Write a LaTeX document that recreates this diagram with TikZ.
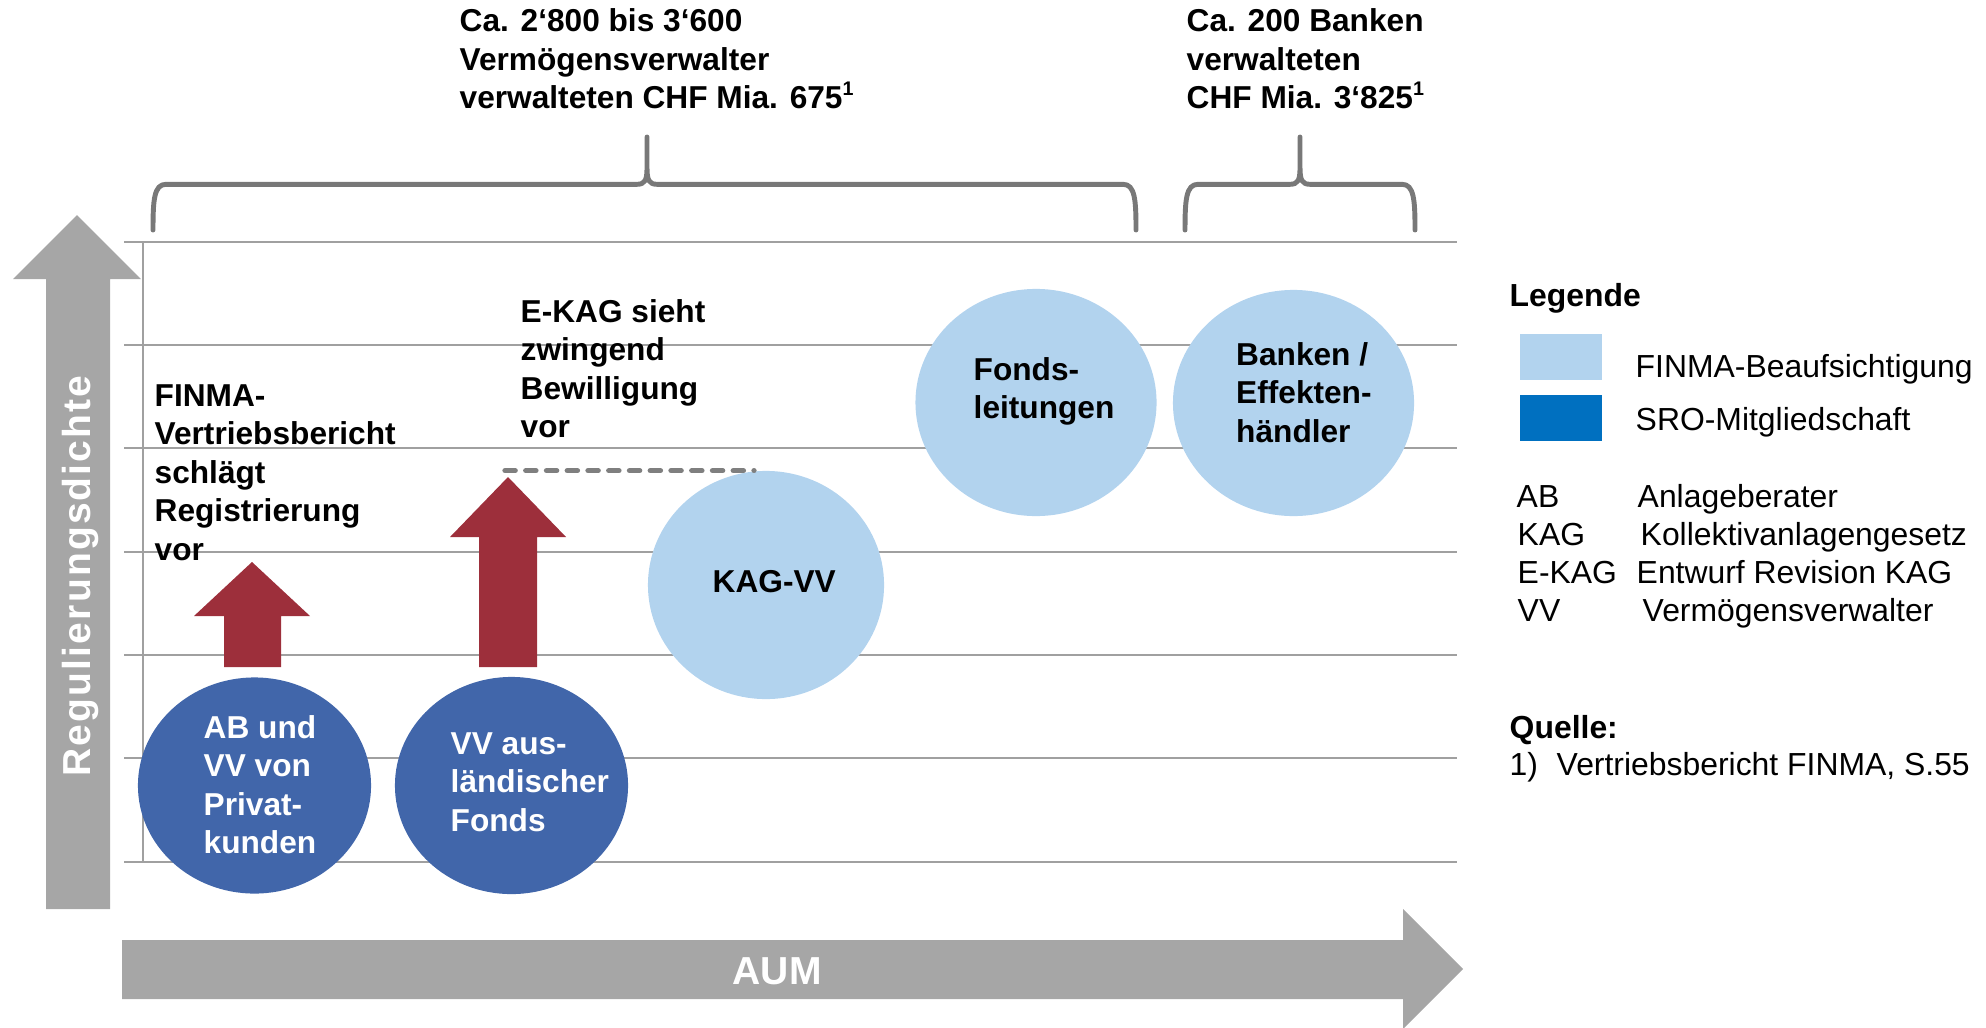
\documentclass[tikz,border=0pt]{standalone}
\usepackage{fontspec}
\setmainfont{Liberation Sans}
\usetikzlibrary{shapes.geometric}
\definecolor{darkblue}{HTML}{4166AA}
\definecolor{lightblue}{HTML}{B2D3EE}
\definecolor{sroblue}{HTML}{0070C0}
\definecolor{darkred}{HTML}{9D2F3B}
\definecolor{axisgray}{HTML}{A6A6A6}
\definecolor{gridgray}{HTML}{A0A0A0}
\definecolor{bracegray}{HTML}{787878}
\definecolor{dashgray}{HTML}{7F7F7F}
\newcommand\mltext[1]{\begin{tabular}[t]{@{}l@{}}#1\end{tabular}}
\newcommand\fnmark[1]{\raisebox{0.42em}{\fontsize{5.6}{6}\selectfont #1}}
\begin{document}
\begin{tikzpicture}[x=0.01cm,y=-0.01cm,
  txt/.style={inner sep=0pt, anchor=base west, font=\fontsize{9.0}{10.95}\selectfont\bfseries},
  wtxt/.style={txt, text=white},
  leg/.style={inner sep=0pt, anchor=base west, font=\fontsize{9.07}{10.5}\selectfont},
  legb/.style={leg, font=\fontsize{9.07}{10.5}\selectfont\bfseries},
  gridline/.style={draw=gridgray, line width=0.6pt},
  brace/.style={draw=bracegray, line width=1.4pt, line cap=round, line join=round},
  ell/.style={ellipse, inner sep=0pt, draw=none},
  bigarrow/.style={fill=axisgray, draw=none},
  redarrow/.style={fill=darkred, draw=none},
  axistxt/.style={inner sep=0pt, anchor=base west, text=white, font=\fontsize{11.1}{13}\selectfont\bfseries},
]
\useasboundingbox (0,0) rectangle (1986,1027);

% grid
\foreach \yy in {241.7,345,448.3,551.7,655,758.3,861.7}
  \draw[gridline] (124,\yy) -- (1457,\yy);
\draw[gridline] (142.7,241.7) -- (142.7,861.7);

% braces
\draw[brace] (153,230) .. controls (153,200) and (154,184.3) .. (166,184.3) -- (637,184.3)
  .. controls (645,184.3) and (647,180) .. (647,168) -- (647,137) -- (647,168)
  .. controls (647,180) and (649,184.3) .. (657,184.3) -- (1123,184.3)
  .. controls (1135,184.3) and (1136,200) .. (1136,230);
\draw[brace] (1185,230) .. controls (1185,200) and (1186,184.3) .. (1198,184.3) -- (1290,184.3)
  .. controls (1298,184.3) and (1300,180) .. (1300,168) -- (1300,137) -- (1300,168)
  .. controls (1300,180) and (1302,184.3) .. (1310,184.3) -- (1402,184.3)
  .. controls (1414,184.3) and (1415,200) .. (1415,230);

% headers
\node[txt] (h1) at (459,31.7) {\mltext{Ca. 2‘800 bis 3‘600\\Vermögensverwalter\\verwalteten CHF Mia. 675\fnmark{1}}};
\node[txt] (h2) at (1186,31.7) {\mltext{Ca. 200 Banken\\verwalteten\\CHF Mia. 3‘825\fnmark{1}}};

% axes
\path[bigarrow] (46,909) -- (46,279) -- (13,279) -- (77,215) -- (141,279) -- (110,279) -- (110,909) -- cycle;
\node[axistxt, rotate=90] (yl) at (90,777) {\addfontfeature{LetterSpace=5.5}Regulierungsdichte};
\path[bigarrow] (122,940) -- (1403,940) -- (1403,909) -- (1463,969) -- (1403,1029) -- (1403,999) -- (122,999) -- cycle;
\node[axistxt] (xl) at (732,984) {AUM};

% ellipses
\node[ell, fill=darkblue, minimum width=2.33cm, minimum height=2.16cm] (e1) at (254.5,785.5) {};
\node[ell, fill=darkblue, minimum width=2.33cm, minimum height=2.17cm] (e2) at (511.5,785.5) {};
\node[ell, fill=lightblue, minimum width=2.36cm, minimum height=2.28cm] (e3) at (766,585) {};
\node[ell, fill=lightblue, minimum width=2.41cm, minimum height=2.27cm] (e4) at (1036,402.5) {};
\node[ell, fill=lightblue, minimum width=2.41cm, minimum height=2.26cm] (e5) at (1293.5,403) {};

\node[wtxt] (t1) at (203,738) {\mltext{AB und\\VV von\\Privat-\\kunden}};
\node[wtxt] (t2) at (450,754) {\mltext{VV aus-\\ländischer\\Fonds}};
\node[txt] (t3) at (712,592) {KAG-VV};
\node[txt] (t4) at (973,380) {\mltext{Fonds-\\leitungen}};
\node[txt] (t5) at (1235.5,365) {\mltext{Banken /\\Effekten-\\händler}};

% red arrows
\path[redarrow] (224,667) -- (224,616) -- (194,616) -- (252,562) -- (310,616) -- (281,616) -- (281,667) -- cycle;
\path[redarrow] (479,667) -- (479,537) -- (450,537) -- (508,477) -- (566,537) -- (537,537) -- (537,667) -- cycle;

% dashed level
\coordinate (d1) at (505,470.7);
\coordinate (d2) at (754,470.7);
\draw[dashgray, line width=1.5pt, line cap=round, dash pattern=on 2.9pt off 3.0pt] (d1) -- (d2);

% annotations
\node[txt] (a1) at (154,406) {\mltext{FINMA-\\Vertriebsbericht\\schlägt\\Registrierung\\vor}};
\node[txt] (a2) at (520,322) {\mltext{E-KAG sieht\\zwingend\\Bewilligung\\vor}};

% legend
\node[legb] (lg) at (1509,306.5) {Legende};
\fill[lightblue] (1520,334) rectangle (1602,379.8);
\node[leg] (lg1) at (1635,377) {FINMA-Beaufsichtigung};
\fill[sroblue] (1520,395) rectangle (1602,440.8);
\node[leg] (lg2) at (1635,430.5) {SRO-Mitgliedschaft};
\node[leg] (ab1) at (1516,507.2) {AB};
\node[leg] (ab2) at (1637,507.2) {Anlageberater};
\node[leg] (kg1) at (1517,545) {KAG};
\node[leg] (kg2) at (1640,545) {Kollektivanlagengesetz};
\node[leg] (ek1) at (1517,583.7) {E-KAG};
\node[leg] (ek2) at (1636,583.7) {Entwurf Revision KAG};
\node[leg] (vv1) at (1517,621.6) {VV};
\node[leg] (vv2) at (1642,621.6) {Vermögensverwalter};
\node[legb] (ql) at (1509,738) {Quelle:};
\node[leg] (q1) at (1509,775) {1)};
\node[leg] (q2) at (1556,775) {Vertriebsbericht FINMA, S.55};
\end{tikzpicture}
\end{document}
